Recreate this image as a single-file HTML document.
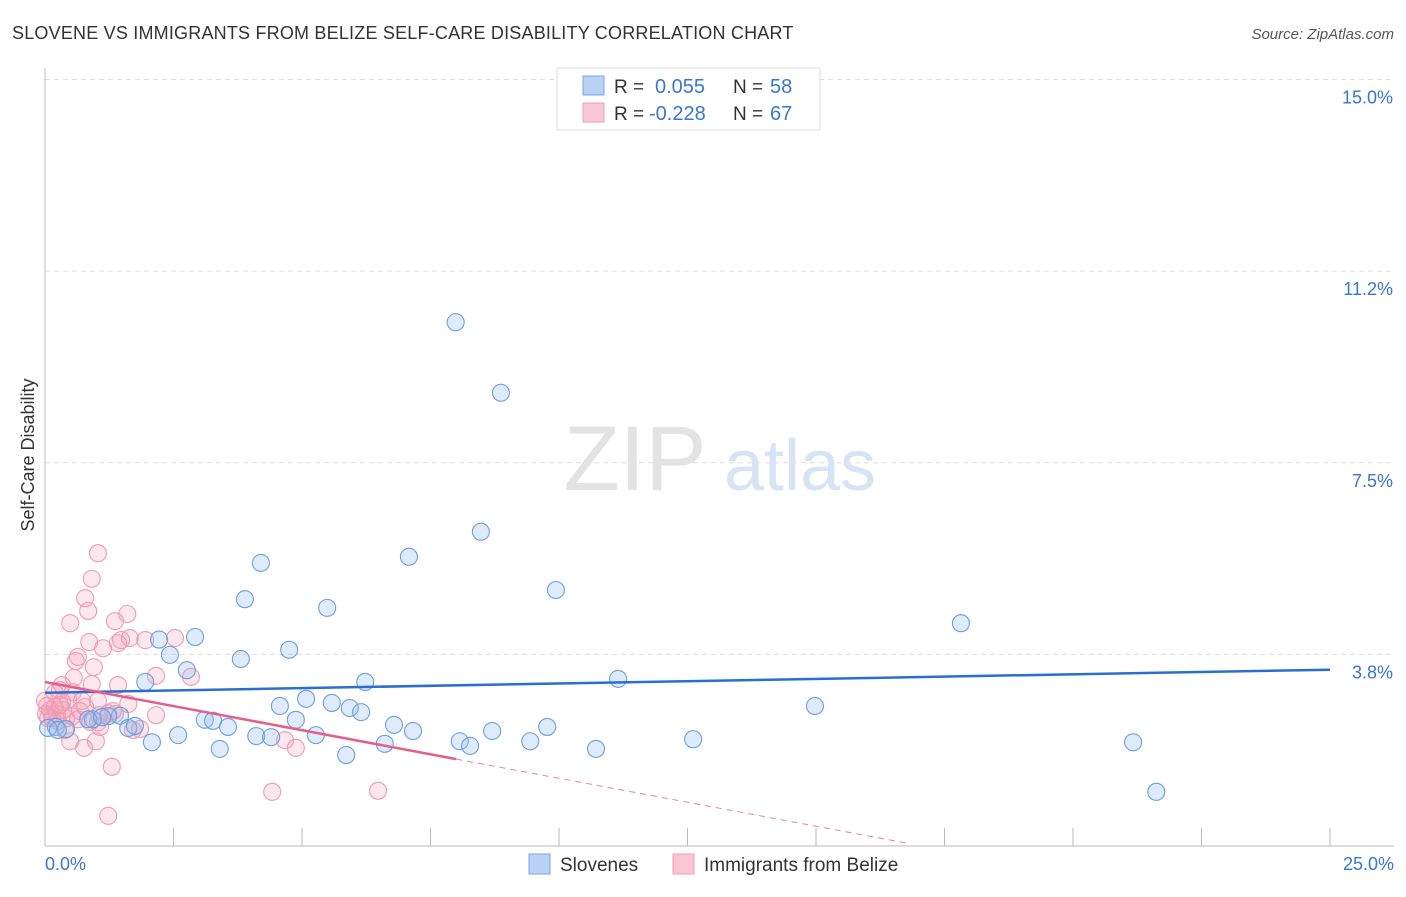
<!DOCTYPE html>
<html><head><meta charset="utf-8"><style>
body{margin:0;background:#fff;font-family:"Liberation Sans",sans-serif;}
svg text{font-family:"Liberation Sans",sans-serif;}
</style></head><body>
<svg id="chart" width="1406" height="892" xmlns="http://www.w3.org/2000/svg">
<text x="12" y="39" font-size="18" fill="#333" letter-spacing="0.2">SLOVENE VS IMMIGRANTS FROM BELIZE SELF-CARE DISABILITY CORRELATION CHART</text>
<text x="1394" y="39" font-size="15" fill="#555" font-style="italic" text-anchor="end">Source: ZipAtlas.com</text>
<g id="grid"></g>
<g>
<text x="635" y="490" font-size="92" fill="#e3e3e3" font-family="Liberation Serif" text-anchor="middle">ZIP</text>
<text x="800" y="490" font-size="72" fill="#d6e4f5" text-anchor="middle">atlas</text>
</g>
<line x1="45" y1="68" x2="45" y2="846" stroke="#bbb"/>
<line x1="45" y1="846" x2="1394" y2="846" stroke="#bbb"/>
<g id="pts"></g>
<g id="trend"></g>
<text x="34" y="455" font-size="18" fill="#333" transform="rotate(-90 34 455)" text-anchor="middle">Self-Care Disability</text>
<text x="45" y="870" font-size="18" fill="#3a76d0">0.0%</text>
<text x="1394" y="870" font-size="18" fill="#3a76d0" text-anchor="end">25.0%</text>
<g>
<rect x="557" y="68" width="263" height="62" fill="#fff" stroke="#ddd"/>
<rect x="583" y="76" width="21" height="19" fill="#b8d1f5" stroke="#7aa6e6"/>
<rect x="583" y="103" width="21" height="19" fill="#f9c6d6" stroke="#eba0b8"/>
<text x="614" y="93" font-size="19" fill="#333">R =</text><text x="655" y="93" font-size="20" fill="#3a76d0">0.055</text>
<text x="733" y="93" font-size="19" fill="#333">N =</text><text x="770" y="93" font-size="20" fill="#3a76d0">58</text>
<text x="614" y="120" font-size="19" fill="#333">R =</text><text x="649" y="120" font-size="20" fill="#3a76d0">-0.228</text>
<text x="733" y="120" font-size="19" fill="#333">N =</text><text x="770" y="120" font-size="20" fill="#3a76d0">67</text>
</g>
<g>
<rect x="529" y="854" width="21" height="20" fill="#b8d1f5" stroke="#7aa6e6"/>
<text x="560" y="871" font-size="19" fill="#333">Slovenes</text>
<rect x="673" y="854" width="21" height="20" fill="#f9c6d6" stroke="#eba0b8"/>
<text x="704" y="871" font-size="19" fill="#333">Immigrants from Belize</text>
</g>
</svg>
<script>
const yTicks=[3.75,7.5,11.25,15];
const yTickLabels=["3.8%","7.5%","11.2%","15.0%"];
const xTicks=[2.5,5,7.5,10,12.5,15,17.5,20,22.5,25];
const sloveneX=[7.99,8.87,8.48,7.08,4.20,9.94,3.89,5.49,17.82,2.22,2.92,2.43,4.75,3.81,2.76,1.95,6.23,11.15,5.08,4.57,5.58,14.98,5.93,6.15,1.46,1.23,0.93,3.11,3.27,4.88,6.79,9.77,8.70,7.16,1.62,0.21,0.41,2.59,3.56,4.11,4.40,5.27,2.08,8.07,8.27,9.44,6.61,12.61,21.17,3.40,10.72,5.86,21.62,0.06,0.25,0.84,1.11,1.75];
const sloveneY=[10.25,8.87,6.15,5.66,5.54,5.01,4.83,4.66,4.36,4.04,4.09,3.74,3.84,3.66,3.44,3.21,3.21,3.27,2.88,2.74,2.80,2.74,2.70,2.62,2.55,2.54,2.48,2.47,2.45,2.47,2.37,2.33,2.25,2.25,2.31,2.33,2.29,2.17,2.33,2.15,2.13,2.17,2.03,2.05,1.96,2.05,2.00,2.09,2.03,1.90,1.90,1.78,1.06,2.31,2.27,2.48,2.52,2.35];
const belizeX=[1.03,0.91,0.78,0.84,1.60,1.36,0.49,0.86,1.65,1.95,2.53,1.42,1.13,1.48,0.64,0.60,0.95,2.16,2.84,0.56,0.33,0.91,1.42,0.29,0.19,0.54,0.72,1.03,1.62,0.78,0.19,0.10,0.02,0.23,0.35,0.41,0.53,1.05,1.23,1.36,2.16,0.14,0.06,1.03,1.85,1.71,0.49,0.99,0.76,4.67,4.88,1.30,4.42,6.48,1.23,0.33,0.45,0.64,0.88,1.07,0.39,0.25,0.04,0.0,1.32,0.68,0.29];
const belizeY=[5.73,5.23,4.85,4.60,4.54,4.40,4.36,3.99,4.07,4.03,4.07,3.97,3.87,4.03,3.70,3.62,3.50,3.33,3.31,3.29,3.15,3.17,3.15,3.05,2.99,3.01,2.84,2.84,2.78,2.72,2.72,2.66,2.58,2.58,2.66,2.50,2.54,2.56,2.60,2.58,2.56,2.50,2.50,2.42,2.29,2.27,2.05,2.05,1.92,2.07,1.92,1.55,1.06,1.08,0.59,2.82,2.86,2.48,2.43,2.33,2.27,2.45,2.74,2.84,2.64,2.64,2.76];
const blueTrend=[[0,3.0],[25,3.45]];
const pinkTrend=[[0,3.21],[8,1.70]];
const pinkDash=[[8,1.70],[16.8,0.05]];
const X=v=>45+v*51.4, Y=v=>846-v*51.1;
const NS="http://www.w3.org/2000/svg";
function mk(tag,attrs,parent){const e=document.createElementNS(NS,tag);for(const k in attrs)e.setAttribute(k,attrs[k]);parent.appendChild(e);return e;}
const grid=document.getElementById('grid');
yTicks.forEach((t,i)=>{
 const l=mk('line',{x1:45,x2:1394,y1:Y(t),y2:Y(t),stroke:'#ddd','stroke-dasharray':'5,4'},grid);
 
 
 const tx=mk('text',{x:1393,y:Y(t)+24,'font-size':18,fill:'#3a76d0','text-anchor':'end'},grid);
 tx.textContent=yTickLabels[i];
 
 
});
xTicks.forEach(t=>{
 const l=mk('line',{x1:X(t),x2:X(t),y1:828,y2:846,stroke:'#bbb'},grid);
 
 
});
const pts=document.getElementById('pts');
belizeX.forEach((x,i)=>{
 const c=mk('circle',{cx:X(x),cy:Y(belizeY[i]),r:8.5,fill:'rgba(245,160,185,0.25)',stroke:'#f09ab4','stroke-width':1.1},pts);
 
 
});
sloveneX.forEach((x,i)=>{
 const c=mk('circle',{cx:X(x),cy:Y(sloveneY[i]),r:8.5,fill:'rgba(150,190,240,0.3)',stroke:'#6b9fe0','stroke-width':1.1},pts);
 
 
});
const tr=document.getElementById('trend');
let l1=mk('line',{x1:X(blueTrend[0][0]),y1:Y(blueTrend[0][1]),x2:X(blueTrend[1][0]),y2:Y(blueTrend[1][1]),stroke:'#2a6fd0','stroke-width':2.5},tr);


let l2=mk('line',{x1:X(pinkTrend[0][0]),y1:Y(pinkTrend[0][1]),x2:X(pinkTrend[1][0]),y2:Y(pinkTrend[1][1]),stroke:'#e45f8a','stroke-width':2.5},tr);


let l3=mk('line',{x1:X(pinkDash[0][0]),y1:Y(pinkDash[0][1]),x2:X(pinkDash[1][0]),y2:Y(pinkDash[1][1]),stroke:'#e8829f','stroke-width':1,'stroke-dasharray':'6,5'},tr);


</script>
</body></html>
